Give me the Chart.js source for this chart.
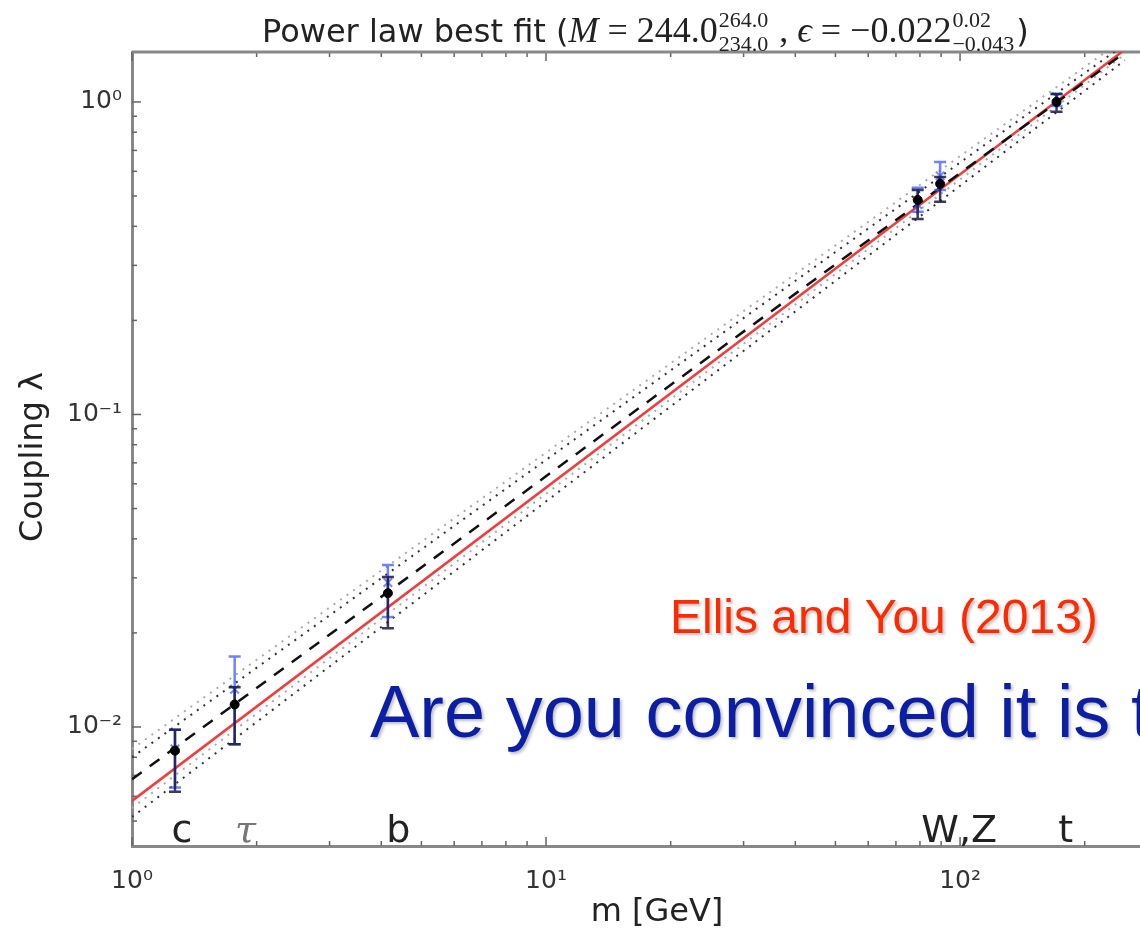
<!DOCTYPE html>
<html>
<head>
<meta charset="utf-8">
<script src="https://cdn.jsdelivr.net/npm/chart.js@4.4.0/dist/chart.umd.min.js"></script>
<style>
  html, body { margin: 0; padding: 0; background: #fff; overflow: hidden; }
  #wrap { width: 1140px; height: 940px; position: relative; }
</style>
</head>
<body>
<div id="wrap"><canvas id="fitChart"></canvas></div>
<script>
// particles and their masses [GeV]
var particles = ['c', 'τ', 'b', 'W', 'Z', 't'];
var masses = [1.27, 1.77, 4.15, 79.0, 89.5, 171.0];

// black points with error bars
var coupling   = [0.0084, 0.0118, 0.0268, 0.486, 0.547, 1.00];
var couplingLo = [0.0062, 0.0088, 0.0207, 0.422, 0.479, 0.93];
var couplingHi = [0.0098, 0.0134, 0.0302, 0.523, 0.575, 1.06];

// blue points with error bars
var measured   = [0.0085, 0.0132, 0.0290, 0.470, 0.580, 1.04];
var measuredLo = [0.0064, 0.0088, 0.0225, 0.445, 0.523, 0.97];
var measuredHi = [0.0098, 0.0168, 0.0330, 0.531, 0.643, 1.06];

// straight lines (log-log), value at m = 1 and m = 250
var lineMass   = [1, 250];
var redLine    = [0.0058, 1.47];
var dashLine   = [0.0068, 1.44];
var upperDark  = [0.0080, 1.53];
var upperLight = [0.0085, 1.60];
var lowerDark  = [0.00515, 1.36];
var lowerLight = [0.0055, 1.42];

// letters along the bottom of the plot
var labelText = ['c', 'τ', 'b', 'W,Z', 't'];
var labelMass = [1.32, 1.88, 4.40, 99.5, 180];

// tick labels
var xMajor = [1, 10, 100];
var xTickLabels = ['10⁰', '10¹', '10²'];
var yMajor = [0.01, 0.1, 1];
var yTickLabels = ['10⁻²', '10⁻¹', '10⁰'];

function pairs(xs, ys) {
  return xs.map(function (x, i) { return { x: x, y: ys[i] }; });
}

function findMajor(list, v) {
  for (var i = 0; i < list.length; i++) {
    if (Math.abs(list[i] - v) / list[i] < 1e-6) return i;
  }
  return -1;
}

// 1..9 x 10^n inside the range
function logTicks(min, max) {
  var out = [];
  for (var e = Math.floor(Math.log10(min)); e <= Math.ceil(Math.log10(max)); e++) {
    for (var k = 1; k < 10; k++) {
      var v = parseFloat((k * Math.pow(10, e)).toPrecision(6));
      if (v >= min * 0.999999 && v <= max) out.push(v);
    }
  }
  return out;
}

function drawErrors(chart, los, his, color) {
  var ctx = chart.ctx, xs = chart.scales.x, ys = chart.scales.y;
  ctx.save();
  ctx.strokeStyle = color;
  ctx.lineWidth = 2.5;
  masses.forEach(function (m, i) {
    var px = xs.getPixelForValue(m);
    var y1 = ys.getPixelForValue(los[i]);
    var y2 = ys.getPixelForValue(his[i]);
    ctx.beginPath();
    ctx.moveTo(px, y1); ctx.lineTo(px, y2);
    ctx.moveTo(px - 6, y1); ctx.lineTo(px + 6, y1);
    ctx.moveTo(px - 6, y2); ctx.lineTo(px + 6, y2);
    ctx.stroke();
  });
  ctx.restore();
}

var errorBars = {
  id: 'errorBars',
  beforeDatasetDraw: function (chart, args) {
    if (args.index === 6) drawErrors(chart, measuredLo, measuredHi, 'rgba(60,90,255,0.75)');
    if (args.index === 7) drawErrors(chart, couplingLo, couplingHi, 'rgba(25,25,70,0.85)');
  }
};

function drawTitle(ctx) {
  var x = 262, base = 42;
  var sans = '32px "DejaVu Sans"';
  var serif = '36px "Liberation Serif"';
  var ital = 'italic 36px "Liberation Serif"';
  var small = '22px "Liberation Serif"';
  var parts = [
    { t: 'Power law best fit (', f: sans },
    { t: 'M', f: ital },
    { t: ' = 244.0', f: serif },
    { sup: '264.0', sub: '234.0' },
    { t: ' , ', f: serif },
    { t: 'ϵ', f: ital },
    { t: ' = −0.022', f: serif },
    { sup: '0.02', sub: '−0.043' },
    { t: ')', f: sans }
  ];
  ctx.save();
  ctx.fillStyle = '#222';
  ctx.textBaseline = 'alphabetic';
  ctx.textAlign = 'left';
  parts.forEach(function (p) {
    if (p.t) {
      ctx.font = p.f;
      ctx.fillText(p.t, x, base);
      x += ctx.measureText(p.t).width;
    } else {
      ctx.font = small;
      ctx.fillText(p.sup, x + 1, base - 15);
      ctx.fillText(p.sub, x + 1, base + 9);
      x += Math.max(ctx.measureText(p.sup).width, ctx.measureText(p.sub).width) + 3;
    }
  });
  ctx.restore();
}

var decor = {
  id: 'decor',
  beforeDatasetsDraw: function (chart) {
    var ctx = chart.ctx, a = chart.chartArea;
    var xs = chart.scales.x, ys = chart.scales.y;
    ctx.save();
    // inward tick marks
    ctx.strokeStyle = '#666';
    ctx.lineWidth = 1.5;
    xs.ticks.forEach(function (t) {
      var len = findMajor(xMajor, t.value) >= 0 ? 9 : 5;
      var px = xs.getPixelForValue(t.value);
      ctx.beginPath();
      ctx.moveTo(px, a.bottom); ctx.lineTo(px, a.bottom - len);
      ctx.moveTo(px, a.top); ctx.lineTo(px, a.top + len);
      ctx.stroke();
    });
    ys.ticks.forEach(function (t) {
      var len = findMajor(yMajor, t.value) >= 0 ? 9 : 5;
      var py = ys.getPixelForValue(t.value);
      ctx.beginPath();
      ctx.moveTo(a.left, py); ctx.lineTo(a.left + len, py);
      ctx.stroke();
    });
    // top frame line
    ctx.strokeStyle = '#888';
    ctx.lineWidth = 3;
    ctx.beginPath();
    ctx.moveTo(a.left, a.top); ctx.lineTo(a.right, a.top);
    ctx.stroke();
    ctx.restore();
  },
  afterDraw: function (chart) {
    var ctx = chart.ctx, a = chart.chartArea;
    var xs = chart.scales.x;
    drawTitle(ctx);
    ctx.save();
    // axis titles
    ctx.fillStyle = '#222';
    ctx.textAlign = 'center';
    ctx.textBaseline = 'middle';
    ctx.font = '32px "DejaVu Sans"';
    ctx.fillText('m [GeV]', 657, 913);
    ctx.save();
    ctx.translate(34, 457);
    ctx.rotate(-Math.PI / 2);
    ctx.fillText('Coupling λ', 0, 0);
    ctx.restore();
    // particle letters
    ctx.textBaseline = 'alphabetic';
    labelText.forEach(function (s, i) {
      var px = xs.getPixelForValue(labelMass[i]);
      if (s === 'τ') {
        ctx.font = 'italic 38px "DejaVu Serif"';
        ctx.fillStyle = '#777';
      } else {
        ctx.font = '38px "DejaVu Sans"';
        ctx.fillStyle = '#222';
      }
      ctx.fillText(s, px, a.bottom - 4);
    });
    // slide annotations
    ctx.textAlign = 'left';
    ctx.shadowColor = 'rgba(0,0,0,0.25)';
    ctx.shadowBlur = 3;
    ctx.shadowOffsetX = 2;
    ctx.shadowOffsetY = 2;
    ctx.fillStyle = '#ff2a00';
    ctx.font = '48px "Liberation Sans"';
    ctx.fillText('Ellis and You (2013)', 670, 633);
    ctx.fillStyle = '#0c1ea3';
    ctx.font = '74px "Liberation Sans"';
    ctx.fillText('Are you convinced it is true?', 370, 737);
    ctx.restore();
  }
};

var tickFont = { family: 'DejaVu Sans', size: 25 };

var ctx = document.getElementById('fitChart').getContext('2d');

var chart = new Chart(ctx, {
  type: 'line',
  data: {
    datasets: [
      { data: pairs(lineMass, redLine), borderColor: '#f03c3c', borderWidth: 2.5, pointRadius: 0, order: 5 },
      { data: pairs(lineMass, dashLine), borderColor: '#111', borderWidth: 2.5, borderDash: [12, 10], pointRadius: 0, order: 4 },
      { data: pairs(lineMass, upperDark), borderColor: '#333', borderWidth: 2, borderDash: [2, 6], pointRadius: 0, order: 6 },
      { data: pairs(lineMass, upperLight), borderColor: '#aaa', borderWidth: 2, borderDash: [2, 6], pointRadius: 0, order: 6 },
      { data: pairs(lineMass, lowerDark), borderColor: '#333', borderWidth: 2, borderDash: [2, 6], pointRadius: 0, order: 6 },
      { data: pairs(lineMass, lowerLight), borderColor: '#aaa', borderWidth: 2, borderDash: [2, 6], pointRadius: 0, order: 6 },
      { data: pairs(masses, measured), showLine: false, pointStyle: 'crossRot', pointRadius: 6,
        borderColor: 'rgba(60,90,255,0.7)', pointBorderWidth: 2, order: 1 },
      { data: pairs(masses, coupling), showLine: false, pointStyle: 'circle', pointRadius: 4.5,
        backgroundColor: '#000', borderColor: '#000', order: 0 }
    ]
  },
  options: {
    responsive: true,
    maintainAspectRatio: false,
    animation: false,
    layout: { autoPadding: false, padding: { top: 52, left: 0, right: 0, bottom: 0 } },
    plugins: { legend: { display: false }, tooltip: { enabled: false } },
    scales: {
      x: {
        type: 'logarithmic',
        min: 1,
        max: 272,
        grid: { display: false, drawTicks: false },
        border: { display: true, color: '#888', width: 3 },
        ticks: {
          autoSkip: false, maxRotation: 0, padding: 20, color: '#333', font: tickFont,
          callback: function (v) {
            var i = findMajor(xMajor, v);
            return i >= 0 ? xTickLabels[i] : '';
          }
        },
        afterBuildTicks: function (s) {
          s.ticks = logTicks(s.min, s.max).map(function (v) { return { value: v }; });
        },
        afterFit: function (s) {
          s.height = 94;
          s.paddingRight = 0;
        }
      },
      y: {
        type: 'logarithmic',
        min: 0.00416,
        max: 1.445,
        grid: { display: false, drawTicks: false },
        border: { display: true, color: '#888', width: 3 },
        ticks: {
          autoSkip: false, padding: 10, color: '#333', font: tickFont,
          callback: function (v) {
            var i = findMajor(yMajor, v);
            return i >= 0 ? yTickLabels[i] : '';
          }
        },
        afterBuildTicks: function (s) {
          s.ticks = logTicks(s.min, s.max).map(function (v) { return { value: v }; });
        },
        afterFit: function (s) {
          s.width = 132;
          s.paddingTop = 0;
        }
      }
    }
  },
  plugins: [errorBars, decor]
});
</script>
</body>
</html>
